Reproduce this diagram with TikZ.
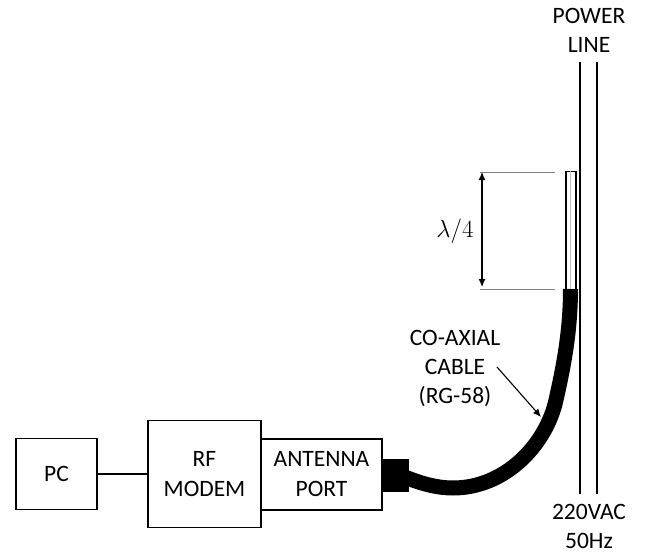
\documentclass[tikz,border=0pt]{standalone}
\usepackage{fontspec}
\setmainfont{Carlito}
\usetikzlibrary{arrows.meta, positioning}
\begin{document}
\begin{tikzpicture}[
    x=1pt, y=-1pt,
    box/.style={rectangle, draw, line width=1.2pt, align=center, font=\fontsize{23.5}{30}\selectfont, inner sep=0pt},
    tag/.style={align=center, font=\fontsize{23.5}{29}\selectfont, inner sep=0pt},
    arrow/.style={>={Latex[length=8pt,width=7pt]}, line width=1.1pt},
    leader/.style={draw=gray, line width=0.6pt}
]
\useasboundingbox (0,0) rectangle (654,554);

% Row: boxes
\node[box, minimum width=81pt, minimum height=71pt] (pc) at (56.5,474) {PC};
\node[box, minimum width=113pt, minimum height=107pt] (modem) at (204.5,474) {RF\\MODEM};
\node[box, minimum width=121pt, minimum height=71pt] (port) at (321.5,474.5) {ANTENNA\\PORT};
\node[rectangle, fill=black, minimum width=27pt, minimum height=33pt, inner sep=0pt] (plug) at (395.5,475.5) {};

% Power line
\coordinate (lineatop) at (580,62);
\coordinate (lineabot) at (580,494);
\coordinate (linebtop) at (597,62);
\coordinate (linebbot) at (597,494);
\draw[line width=1.4pt] (lineatop) -- (lineabot);
\draw[line width=1.4pt] (linebtop) -- (linebbot);
\node[tag] (power) at (589,30) {POWER\\LINE};
\node[tag] (supply) at (589,526) {220VAC\\50Hz};

% Antenna
\node[rectangle, draw, fill=white, line width=1.4pt, minimum width=10pt, minimum height=118pt, inner sep=0pt] (stub) at (570.8,230.5) {};
\draw[draw=gray!50, line width=0.8pt] (stub.north) -- (stub.south);
\coordinate (leadtop) at (480,172);
\coordinate (leadbot) at (480,289);
\coordinate (leadtopend) at (555,172);
\coordinate (leadbotend) at (555,289);
\draw[leader] (leadtop) -- (leadtopend);
\draw[leader] (leadbot) -- (leadbotend);
\coordinate (arrowtop) at (482,172);
\coordinate (arrowbot) at (482,287);
\draw[arrow, <->] (arrowtop) -- (arrowbot);
\node[tag] (lambda) at (455,231) {$\lambda/4$};

% Cable
\draw[line width=15pt] (405,477) .. controls (422,484) and (438,488) .. (453,488) .. controls (505,488) and (546,445) .. (556,400) .. controls (562,373) and (570.5,335) .. (570.5,289);
\node[tag] (coax) at (455,369) {CO-AXIAL\\CABLE\\(RG-58)};
\coordinate (coaxstart) at (497,367);
\coordinate (coaxtip) at (541,417);
\draw[arrow, ->] (coaxstart) -- (coaxtip);

% Connections
\draw[line width=1.2pt] (pc) -- (modem);

\end{tikzpicture}
\end{document}
